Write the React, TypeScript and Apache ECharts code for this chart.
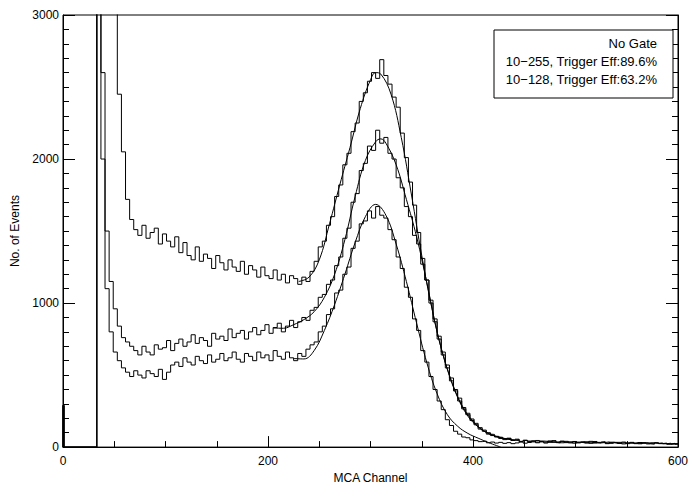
import React, { useEffect, useRef } from "react";
import * as echarts from "echarts";

// Histogram binning: first bin starts at channel 33, each bin 4 channels wide
const BIN_START = 33;
const BIN_WIDTH = 4;
// counts in channel 0 (small spike at the axis)
const channelZeroCount = 290;

const noGate = [
  3600, 3600, 3600, 3600, 3300, 2450, 2050, 1720, 1580, 1510,
  1470, 1540, 1450, 1490, 1520, 1410, 1480, 1430, 1390, 1460,
  1350, 1420, 1330, 1300, 1390, 1290, 1340, 1310, 1240, 1330,
  1280, 1230, 1300, 1250, 1220, 1290, 1200, 1260, 1230, 1180,
  1250, 1190, 1170, 1230, 1160, 1200, 1140, 1190, 1170, 1130,
  1180, 1150, 1220, 1290, 1390, 1430, 1540, 1600, 1740, 1820,
  1960, 2040, 2190, 2250, 2400, 2460, 2540, 2600, 2560, 2690,
  2580, 2520, 2430, 2360, 2180, 2010, 1840, 1680, 1490, 1310,
  1160, 1020, 870, 770, 640, 570, 460, 400, 320, 275,
  225, 195, 155, 135, 110, 100, 80, 75, 60, 58,
  60, 48, 52, 40, 46, 38, 44, 35, 42, 40,
  33, 45, 36, 30, 40, 34, 38, 29, 36, 31,
  40, 28, 33, 37, 27, 34, 30, 25, 35, 28,
  31, 24, 32, 27, 22, 30, 26, 29, 23, 27,
  21, 25,
];

const gate255 = [
  3600, 2600, 1500, 1150, 960, 840, 760, 730, 700, 670,
  640, 700, 660, 640, 710, 680, 690, 740, 670, 720,
  750, 700, 730, 780, 720, 760, 740, 700, 790, 750,
  770, 740, 820, 760, 790, 810, 750, 800, 830, 780,
  810, 850, 790, 830, 860, 800, 840, 880, 830, 870,
  900, 880, 950, 970, 1040, 1060, 1130, 1160, 1260, 1320,
  1450, 1520, 1700, 1760, 1920, 1970, 2090, 2060, 2200, 2110,
  2150, 2040, 2000, 1870, 1800, 1670, 1600, 1470, 1410, 1270,
  1160, 1000, 890, 750, 660, 550, 480, 390, 340, 265,
  235, 185, 165, 125, 118, 90, 88, 70, 68, 52,
  62, 46, 55, 38, 48, 42, 36, 46, 39, 34,
  43, 37, 31, 41, 35, 29, 39, 33, 37, 28,
  34, 39, 29, 32, 36, 26, 33, 28, 31, 24,
  33, 27, 25, 31, 28, 23, 30, 25, 27, 22,
  26, 20,
];

const gate128 = [
  3600, 2000, 1100, 800, 660, 600, 550, 520, 490, 530,
  500, 480, 530, 510, 490, 540, 470, 520, 570, 590,
  560, 620, 590, 570, 630, 600, 580, 640, 590, 610,
  650, 600, 620, 660, 610, 590, 650, 630, 600, 660,
  620, 640, 600, 670, 630, 610, 660, 620, 600, 650,
  630, 680, 710, 730, 800, 840, 920, 960, 1070, 1090,
  1200, 1250, 1380, 1430, 1550, 1570, 1640, 1590, 1670, 1610,
  1590, 1510, 1440, 1320, 1240, 1110, 1040, 890, 810, 670,
  590, 490, 400, 320, 260, 190, 150, 110, 90, 70,
  65, 50, 45, 38, 42, 30, 35, 28, 33, 26,
  31, 24, 29, 35, 27, 32, 40, 30, 36, 28,
  38, 33, 29, 40, 31, 36, 27, 34, 30, 37,
  26, 32, 29, 35, 24, 31, 27, 33, 22, 29,
  26, 30, 23, 28, 25, 21, 29, 24, 26, 20,
  24, 22,
];

// Fitted curves: channel / value pairs
const fitNoGateCh = [230, 240, 250, 260, 270, 280, 290, 300, 305, 310, 320, 330, 340, 350, 360, 370, 380, 390, 400, 410, 420, 430, 440];
const fitNoGateVal = [1150, 1180, 1300, 1550, 1820, 2080, 2350, 2550, 2600, 2590, 2450, 2150, 1750, 1330, 960, 660, 440, 280, 180, 115, 80, 60, 48];

const fit255Ch = [205, 215, 225, 235, 245, 255, 265, 275, 285, 295, 305, 310, 315, 325, 335, 345, 355, 365, 375, 385, 395, 405, 415, 425, 435, 445];
const fit255Val = [827, 825, 850, 885, 940, 1040, 1200, 1440, 1740, 1990, 2120, 2140, 2110, 1960, 1720, 1460, 1140, 800, 540, 345, 215, 140, 95, 70, 55, 45];

const fit128Ch = [225, 235, 245, 255, 265, 275, 285, 295, 305, 315, 325, 335, 345, 355, 365, 375, 385, 395, 405, 415, 427];
const fit128Val = [615, 612, 670, 810, 990, 1200, 1420, 1600, 1685, 1610, 1410, 1150, 860, 585, 370, 225, 145, 95, 62, 32, 0];

const xTicks = { min: 0, max: 600, interval: 200 };
const yTicks = { min: 0, max: 3000, interval: 1000 };

const legendLines = [
  "No Gate",
  "10\u2212255, Trigger Eff:89.6%",
  "10\u2212128, Trigger Eff:63.2%",
];

const FONT = "'Liberation Sans', Arial, Helvetica, sans-serif";

function histData(values: number[]) {
  const pts: number[][] = [
    [0, 0],
    [0, channelZeroCount],
    [1, 0],
  ];
  values.forEach((v, i) => pts.push([BIN_START + i * BIN_WIDTH, v]));
  pts.push([BIN_START + values.length * BIN_WIDTH, values[values.length - 1]]);
  return pts;
}

function pairs(ch: number[], val: number[]) {
  return ch.map((c, i) => [c, val[i]]);
}

export default function App() {
  const ref = useRef<HTMLDivElement>(null);
  useEffect(() => {
    if (!ref.current) return;
    const chart = echarts.init(ref.current, undefined, { renderer: "svg" });
    const histStyle = { color: "#000", width: 1 };
    const fitStyle = { color: "#000", width: 1 };
    const histSeries = [noGate, gate255, gate128].map((vals) => ({
      type: "line",
      step: "end",
      showSymbol: false,
      symbol: "none",
      clip: true,
      lineStyle: histStyle,
      data: histData(vals),
      z: 2,
    }));
    const fitSeries = [
      pairs(fitNoGateCh, fitNoGateVal),
      pairs(fit255Ch, fit255Val),
      pairs(fit128Ch, fit128Val),
    ].map((d) => ({
      type: "line",
      smooth: 0.4,
      showSymbol: false,
      symbol: "none",
      clip: true,
      lineStyle: fitStyle,
      data: d,
      z: 3,
    }));

    const plain = (v: number) => String(v);
    const axisCommon = {
      axisLine: { show: true, lineStyle: { color: "#000", width: 1 } },
      splitLine: { show: false },
      axisLabel: { color: "#000", fontFamily: FONT, fontSize: 12, formatter: plain },
      nameTextStyle: { color: "#000", fontFamily: FONT, fontSize: 12 },
    };

    chart.setOption({
      animation: false,
      backgroundColor: "#fff",
      grid: {
        left: 63,
        right: 15,
        top: 15,
        bottom: 36,
        show: true,
        borderColor: "#000",
        borderWidth: 1,
        backgroundColor: "transparent",
      },
      xAxis: {
        type: "value",
        ...xTicks,
        ...axisCommon,
        axisTick: { show: true, inside: true, length: 11, lineStyle: { color: "#000" } },
        minorTick: { show: true, splitNumber: 4, length: 6, lineStyle: { color: "#000" } },
        axisLabel: { ...axisCommon.axisLabel, margin: 8, showMinLabel: true, showMaxLabel: true },
        name: "MCA Channel",
        nameLocation: "middle",
        nameGap: 24,
      },
      yAxis: [
        {
          type: "value",
          ...yTicks,
          ...axisCommon,
          axisTick: { show: true, inside: true, length: 12, lineStyle: { color: "#000" } },
          minorTick: { show: true, splitNumber: 10, length: 6, lineStyle: { color: "#000" } },
          axisLabel: { ...axisCommon.axisLabel, margin: 4, showMinLabel: true, showMaxLabel: true },
          name: "No. of Events",
          nameLocation: "middle",
          nameGap: 36,
        },
        {
          type: "value",
          position: "right",
          ...yTicks,
          ...axisCommon,
          axisTick: { show: true, inside: true, length: 12, lineStyle: { color: "#000" } },
          minorTick: { show: true, splitNumber: 10, length: 6, lineStyle: { color: "#000" } },
          axisLabel: { show: false },
        },
      ],
      graphic: [
        {
          type: "rect",
          shape: { x: 494, y: 30, width: 179, height: 68 },
          style: { fill: "#fff", stroke: "#000", lineWidth: 1 },
          z: 10,
        },
        ...legendLines.map((t, i) => ({
          type: "text",
          z: 11,
          style: {
            text: t,
            x: 657,
            y: 43 + i * 18,
            textAlign: "right",
            textVerticalAlign: "middle",
            fill: "#000",
            font: `13px ${FONT}`,
          },
        })),
      ],
      series: [...histSeries, ...fitSeries],
    });
    return () => chart.dispose();
  }, []);

  return (
    <div
      ref={ref}
      style={{ position: "fixed", left: 0, top: 0, width: 693, height: 489 }}
    />
  );
}
